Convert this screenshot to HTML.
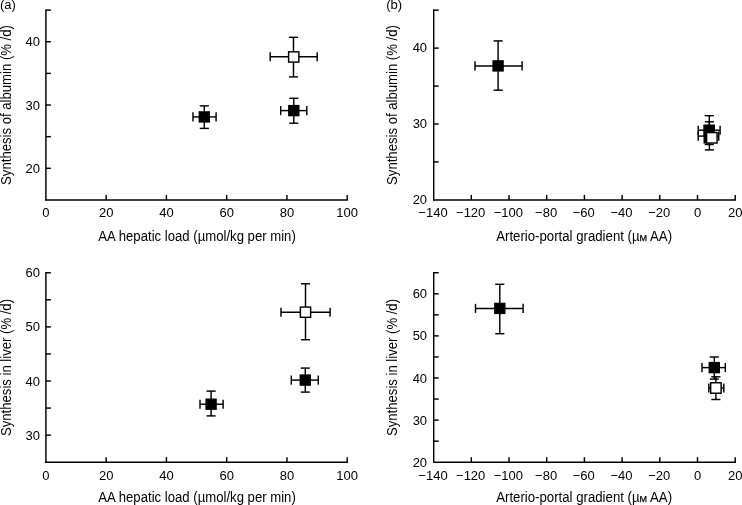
<!DOCTYPE html>
<html><head><meta charset="utf-8"><title>Figure</title>
<style>html,body{margin:0;padding:0;background:#fff}svg{display:block}
text{font-family:"Liberation Sans",Arial,Helvetica,sans-serif;fill:#000;stroke:none}</style></head>
<body><svg width="742" height="505" viewBox="0 0 742 505" stroke="#000" fill="none" stroke-linecap="butt">
<rect x="0" y="0" width="742" height="505" fill="#fff" stroke="none"/>
<line x1="45.90" y1="9.38" x2="45.90" y2="200.62" stroke-width="1.45"/>
<line x1="45.17" y1="199.90" x2="347.93" y2="199.90" stroke-width="1.45"/>
<text x="45.90" y="217.30" font-size="13" text-anchor="middle">0</text>
<line x1="106.16" y1="199.90" x2="106.16" y2="194.90" stroke-width="1.45"/>
<text x="106.16" y="217.30" font-size="13" text-anchor="middle">20</text>
<line x1="166.42" y1="199.90" x2="166.42" y2="194.90" stroke-width="1.45"/>
<text x="166.42" y="217.30" font-size="13" text-anchor="middle">40</text>
<line x1="226.68" y1="199.90" x2="226.68" y2="194.90" stroke-width="1.45"/>
<text x="226.68" y="217.30" font-size="13" text-anchor="middle">60</text>
<line x1="286.94" y1="199.90" x2="286.94" y2="194.90" stroke-width="1.45"/>
<text x="286.94" y="217.30" font-size="13" text-anchor="middle">80</text>
<line x1="347.20" y1="199.90" x2="347.20" y2="194.90" stroke-width="1.45"/>
<text x="347.20" y="217.30" font-size="13" text-anchor="middle">100</text>
<line x1="45.90" y1="168.31" x2="50.90" y2="168.31" stroke-width="1.45"/>
<text x="40.00" y="172.81" font-size="13" text-anchor="end">20</text>
<line x1="45.90" y1="105.03" x2="50.90" y2="105.03" stroke-width="1.45"/>
<text x="40.00" y="109.53" font-size="13" text-anchor="end">30</text>
<line x1="45.90" y1="41.75" x2="50.90" y2="41.75" stroke-width="1.45"/>
<text x="40.00" y="46.25" font-size="13" text-anchor="end">40</text>
<line x1="45.90" y1="136.67" x2="50.90" y2="136.67" stroke-width="1.45"/>
<line x1="45.90" y1="73.39" x2="50.90" y2="73.39" stroke-width="1.45"/>
<line x1="45.90" y1="10.11" x2="50.90" y2="10.11" stroke-width="1.45"/>
<text x="197.05" y="241.00" font-size="14" text-anchor="middle" textLength="197.5" lengthAdjust="spacingAndGlyphs">AA hepatic load (µmol/kg per min)</text>
<text x="10.80" y="105.00" font-size="14" text-anchor="middle" textLength="159.8" lengthAdjust="spacingAndGlyphs" transform="rotate(-90 10.80 105.00)">Synthesis of albumin (% /d)</text>
<line x1="270.20" y1="56.80" x2="317.20" y2="56.80" stroke-width="1.45"/>
<line x1="270.20" y1="52.25" x2="270.20" y2="61.35" stroke-width="1.45"/>
<line x1="317.20" y1="52.25" x2="317.20" y2="61.35" stroke-width="1.45"/>
<line x1="293.50" y1="37.30" x2="293.50" y2="76.90" stroke-width="1.45"/>
<line x1="288.95" y1="37.30" x2="298.05" y2="37.30" stroke-width="1.45"/>
<line x1="288.95" y1="76.90" x2="298.05" y2="76.90" stroke-width="1.45"/>
<rect x="288.62" y="51.83" width="10.25" height="10.25" fill="#fff" stroke-width="1.45"/>
<line x1="280.70" y1="110.60" x2="306.80" y2="110.60" stroke-width="1.45"/>
<line x1="280.70" y1="106.05" x2="280.70" y2="115.15" stroke-width="1.45"/>
<line x1="306.80" y1="106.05" x2="306.80" y2="115.15" stroke-width="1.45"/>
<line x1="293.80" y1="98.30" x2="293.80" y2="123.20" stroke-width="1.45"/>
<line x1="289.25" y1="98.30" x2="298.35" y2="98.30" stroke-width="1.45"/>
<line x1="289.25" y1="123.20" x2="298.35" y2="123.20" stroke-width="1.45"/>
<rect x="288.10" y="104.90" width="11.40" height="11.40" fill="#000" stroke="none"/>
<line x1="193.00" y1="116.90" x2="216.10" y2="116.90" stroke-width="1.45"/>
<line x1="193.00" y1="112.35" x2="193.00" y2="121.45" stroke-width="1.45"/>
<line x1="216.10" y1="112.35" x2="216.10" y2="121.45" stroke-width="1.45"/>
<line x1="204.30" y1="105.90" x2="204.30" y2="128.40" stroke-width="1.45"/>
<line x1="199.75" y1="105.90" x2="208.85" y2="105.90" stroke-width="1.45"/>
<line x1="199.75" y1="128.40" x2="208.85" y2="128.40" stroke-width="1.45"/>
<rect x="198.60" y="111.20" width="11.40" height="11.40" fill="#000" stroke="none"/>
<line x1="45.90" y1="272.05" x2="45.90" y2="462.93" stroke-width="1.45"/>
<line x1="45.17" y1="462.20" x2="347.93" y2="462.20" stroke-width="1.45"/>
<text x="45.90" y="479.50" font-size="13" text-anchor="middle">0</text>
<line x1="106.16" y1="462.20" x2="106.16" y2="457.20" stroke-width="1.45"/>
<text x="106.16" y="479.50" font-size="13" text-anchor="middle">20</text>
<line x1="166.42" y1="462.20" x2="166.42" y2="457.20" stroke-width="1.45"/>
<text x="166.42" y="479.50" font-size="13" text-anchor="middle">40</text>
<line x1="226.68" y1="462.20" x2="226.68" y2="457.20" stroke-width="1.45"/>
<text x="226.68" y="479.50" font-size="13" text-anchor="middle">60</text>
<line x1="286.94" y1="462.20" x2="286.94" y2="457.20" stroke-width="1.45"/>
<text x="286.94" y="479.50" font-size="13" text-anchor="middle">80</text>
<line x1="347.20" y1="462.20" x2="347.20" y2="457.20" stroke-width="1.45"/>
<text x="347.20" y="479.50" font-size="13" text-anchor="middle">100</text>
<line x1="45.90" y1="435.14" x2="50.90" y2="435.14" stroke-width="1.45"/>
<text x="40.00" y="439.64" font-size="13" text-anchor="end">30</text>
<line x1="45.90" y1="381.02" x2="50.90" y2="381.02" stroke-width="1.45"/>
<text x="40.00" y="385.52" font-size="13" text-anchor="end">40</text>
<line x1="45.90" y1="326.90" x2="50.90" y2="326.90" stroke-width="1.45"/>
<text x="40.00" y="331.40" font-size="13" text-anchor="end">50</text>
<line x1="45.90" y1="272.78" x2="50.90" y2="272.78" stroke-width="1.45"/>
<text x="40.00" y="277.28" font-size="13" text-anchor="end">60</text>
<line x1="45.90" y1="408.08" x2="50.90" y2="408.08" stroke-width="1.45"/>
<line x1="45.90" y1="353.96" x2="50.90" y2="353.96" stroke-width="1.45"/>
<line x1="45.90" y1="299.84" x2="50.90" y2="299.84" stroke-width="1.45"/>
<text x="197.05" y="502.00" font-size="14" text-anchor="middle" textLength="197.5" lengthAdjust="spacingAndGlyphs">AA hepatic load (µmol/kg per min)</text>
<text x="10.80" y="367.49" font-size="14" text-anchor="middle" textLength="137" lengthAdjust="spacingAndGlyphs" transform="rotate(-90 10.80 367.49)">Synthesis in liver (% /d)</text>
<line x1="281.00" y1="312.20" x2="330.10" y2="312.20" stroke-width="1.45"/>
<line x1="281.00" y1="307.65" x2="281.00" y2="316.75" stroke-width="1.45"/>
<line x1="330.10" y1="307.65" x2="330.10" y2="316.75" stroke-width="1.45"/>
<line x1="305.50" y1="283.80" x2="305.50" y2="339.70" stroke-width="1.45"/>
<line x1="300.95" y1="283.80" x2="310.05" y2="283.80" stroke-width="1.45"/>
<line x1="300.95" y1="339.70" x2="310.05" y2="339.70" stroke-width="1.45"/>
<rect x="300.38" y="307.07" width="10.25" height="10.25" fill="#fff" stroke-width="1.45"/>
<line x1="291.30" y1="380.10" x2="318.30" y2="380.10" stroke-width="1.45"/>
<line x1="291.30" y1="375.55" x2="291.30" y2="384.65" stroke-width="1.45"/>
<line x1="318.30" y1="375.55" x2="318.30" y2="384.65" stroke-width="1.45"/>
<line x1="305.30" y1="368.10" x2="305.30" y2="392.10" stroke-width="1.45"/>
<line x1="300.75" y1="368.10" x2="309.85" y2="368.10" stroke-width="1.45"/>
<line x1="300.75" y1="392.10" x2="309.85" y2="392.10" stroke-width="1.45"/>
<rect x="299.60" y="374.40" width="11.40" height="11.40" fill="#000" stroke="none"/>
<line x1="200.00" y1="404.20" x2="223.10" y2="404.20" stroke-width="1.45"/>
<line x1="200.00" y1="399.65" x2="200.00" y2="408.75" stroke-width="1.45"/>
<line x1="223.10" y1="399.65" x2="223.10" y2="408.75" stroke-width="1.45"/>
<line x1="211.10" y1="391.10" x2="211.10" y2="415.90" stroke-width="1.45"/>
<line x1="206.55" y1="391.10" x2="215.65" y2="391.10" stroke-width="1.45"/>
<line x1="206.55" y1="415.90" x2="215.65" y2="415.90" stroke-width="1.45"/>
<rect x="205.40" y="398.50" width="11.40" height="11.40" fill="#000" stroke="none"/>
<line x1="433.70" y1="9.43" x2="433.70" y2="200.62" stroke-width="1.45"/>
<line x1="432.97" y1="199.90" x2="735.93" y2="199.90" stroke-width="1.45"/>
<text x="433.00" y="217.30" font-size="13" text-anchor="middle">−140</text>
<line x1="471.30" y1="199.90" x2="471.30" y2="194.90" stroke-width="1.45"/>
<text x="470.70" y="217.30" font-size="13" text-anchor="middle">−120</text>
<line x1="509.00" y1="199.90" x2="509.00" y2="194.90" stroke-width="1.45"/>
<text x="508.40" y="217.30" font-size="13" text-anchor="middle">−100</text>
<line x1="546.70" y1="199.90" x2="546.70" y2="194.90" stroke-width="1.45"/>
<text x="546.10" y="217.30" font-size="13" text-anchor="middle">−80</text>
<line x1="584.40" y1="199.90" x2="584.40" y2="194.90" stroke-width="1.45"/>
<text x="583.80" y="217.30" font-size="13" text-anchor="middle">−60</text>
<line x1="622.10" y1="199.90" x2="622.10" y2="194.90" stroke-width="1.45"/>
<text x="621.50" y="217.30" font-size="13" text-anchor="middle">−40</text>
<line x1="659.80" y1="199.90" x2="659.80" y2="194.90" stroke-width="1.45"/>
<text x="659.20" y="217.30" font-size="13" text-anchor="middle">−20</text>
<line x1="697.50" y1="199.90" x2="697.50" y2="194.90" stroke-width="1.45"/>
<text x="697.50" y="217.30" font-size="13" text-anchor="middle">0</text>
<line x1="735.20" y1="199.90" x2="735.20" y2="194.90" stroke-width="1.45"/>
<text x="735.20" y="217.30" font-size="13" text-anchor="middle">20</text>
<text x="427.10" y="204.40" font-size="13" text-anchor="end">20</text>
<line x1="433.70" y1="124.00" x2="438.70" y2="124.00" stroke-width="1.45"/>
<text x="427.10" y="127.60" font-size="13" text-anchor="end">30</text>
<line x1="433.70" y1="48.10" x2="438.70" y2="48.10" stroke-width="1.45"/>
<text x="427.10" y="51.70" font-size="13" text-anchor="end">40</text>
<line x1="433.70" y1="161.95" x2="438.70" y2="161.95" stroke-width="1.45"/>
<line x1="433.70" y1="86.05" x2="438.70" y2="86.05" stroke-width="1.45"/>
<line x1="433.70" y1="10.15" x2="438.70" y2="10.15" stroke-width="1.45"/>
<text x="584.15" y="241.00" font-size="14" text-anchor="middle" textLength="175.8" lengthAdjust="spacingAndGlyphs">Arterio-portal gradient (µ<tspan font-size="9.6" stroke="#000" stroke-width="0.25">M</tspan> AA)</text>
<text x="397.20" y="105.03" font-size="14" text-anchor="middle" textLength="159.8" lengthAdjust="spacingAndGlyphs" transform="rotate(-90 397.20 105.03)">Synthesis of albumin (% /d)</text>
<line x1="475.00" y1="65.90" x2="522.10" y2="65.90" stroke-width="1.45"/>
<line x1="475.00" y1="61.35" x2="475.00" y2="70.45" stroke-width="1.45"/>
<line x1="522.10" y1="61.35" x2="522.10" y2="70.45" stroke-width="1.45"/>
<line x1="498.10" y1="40.90" x2="498.10" y2="90.20" stroke-width="1.45"/>
<line x1="493.55" y1="40.90" x2="502.65" y2="40.90" stroke-width="1.45"/>
<line x1="493.55" y1="90.20" x2="502.65" y2="90.20" stroke-width="1.45"/>
<rect x="492.40" y="60.20" width="11.40" height="11.40" fill="#000" stroke="none"/>
<line x1="698.20" y1="130.20" x2="720.10" y2="130.20" stroke-width="1.45"/>
<line x1="698.20" y1="125.65" x2="698.20" y2="134.75" stroke-width="1.45"/>
<line x1="720.10" y1="125.65" x2="720.10" y2="134.75" stroke-width="1.45"/>
<line x1="709.30" y1="115.70" x2="709.30" y2="144.50" stroke-width="1.45"/>
<line x1="704.75" y1="115.70" x2="713.85" y2="115.70" stroke-width="1.45"/>
<line x1="704.75" y1="144.50" x2="713.85" y2="144.50" stroke-width="1.45"/>
<rect x="703.60" y="124.50" width="11.40" height="11.40" fill="#000" stroke="none"/>
<line x1="698.20" y1="136.10" x2="718.75" y2="136.10" stroke-width="1.45"/>
<line x1="698.20" y1="131.55" x2="698.20" y2="140.65" stroke-width="1.45"/>
<line x1="718.75" y1="131.55" x2="718.75" y2="140.65" stroke-width="1.45"/>
<line x1="709.40" y1="121.80" x2="709.40" y2="149.90" stroke-width="1.45"/>
<line x1="704.85" y1="121.80" x2="713.95" y2="121.80" stroke-width="1.45"/>
<line x1="704.85" y1="149.90" x2="713.95" y2="149.90" stroke-width="1.45"/>
<rect x="706.62" y="132.58" width="10.45" height="10.45" fill="#fff" stroke-width="1.45"/>
<rect x="703.5" y="125" width="3.5" height="18.6" fill="#000" stroke="none"/>
<line x1="433.70" y1="272.02" x2="433.70" y2="462.93" stroke-width="1.45"/>
<line x1="432.97" y1="462.20" x2="735.93" y2="462.20" stroke-width="1.45"/>
<text x="433.00" y="479.50" font-size="13" text-anchor="middle">−140</text>
<line x1="471.30" y1="462.20" x2="471.30" y2="457.20" stroke-width="1.45"/>
<text x="470.70" y="479.50" font-size="13" text-anchor="middle">−120</text>
<line x1="509.00" y1="462.20" x2="509.00" y2="457.20" stroke-width="1.45"/>
<text x="508.40" y="479.50" font-size="13" text-anchor="middle">−100</text>
<line x1="546.70" y1="462.20" x2="546.70" y2="457.20" stroke-width="1.45"/>
<text x="546.10" y="479.50" font-size="13" text-anchor="middle">−80</text>
<line x1="584.40" y1="462.20" x2="584.40" y2="457.20" stroke-width="1.45"/>
<text x="583.80" y="479.50" font-size="13" text-anchor="middle">−60</text>
<line x1="622.10" y1="462.20" x2="622.10" y2="457.20" stroke-width="1.45"/>
<text x="621.50" y="479.50" font-size="13" text-anchor="middle">−40</text>
<line x1="659.80" y1="462.20" x2="659.80" y2="457.20" stroke-width="1.45"/>
<text x="659.20" y="479.50" font-size="13" text-anchor="middle">−20</text>
<line x1="697.50" y1="462.20" x2="697.50" y2="457.20" stroke-width="1.45"/>
<text x="697.50" y="479.50" font-size="13" text-anchor="middle">0</text>
<line x1="735.20" y1="462.20" x2="735.20" y2="457.20" stroke-width="1.45"/>
<text x="735.20" y="479.50" font-size="13" text-anchor="middle">20</text>
<text x="427.10" y="466.70" font-size="13" text-anchor="end">20</text>
<line x1="433.70" y1="420.10" x2="438.70" y2="420.10" stroke-width="1.45"/>
<text x="427.10" y="424.60" font-size="13" text-anchor="end">30</text>
<line x1="433.70" y1="378.00" x2="438.70" y2="378.00" stroke-width="1.45"/>
<text x="427.10" y="382.50" font-size="13" text-anchor="end">40</text>
<line x1="433.70" y1="335.90" x2="438.70" y2="335.90" stroke-width="1.45"/>
<text x="427.10" y="340.40" font-size="13" text-anchor="end">50</text>
<line x1="433.70" y1="293.80" x2="438.70" y2="293.80" stroke-width="1.45"/>
<text x="427.10" y="298.30" font-size="13" text-anchor="end">60</text>
<line x1="433.70" y1="441.15" x2="438.70" y2="441.15" stroke-width="1.45"/>
<line x1="433.70" y1="399.05" x2="438.70" y2="399.05" stroke-width="1.45"/>
<line x1="433.70" y1="356.95" x2="438.70" y2="356.95" stroke-width="1.45"/>
<line x1="433.70" y1="314.85" x2="438.70" y2="314.85" stroke-width="1.45"/>
<line x1="433.70" y1="272.75" x2="438.70" y2="272.75" stroke-width="1.45"/>
<text x="584.15" y="502.00" font-size="14" text-anchor="middle" textLength="175.8" lengthAdjust="spacingAndGlyphs">Arterio-portal gradient (µ<tspan font-size="9.6" stroke="#000" stroke-width="0.25">M</tspan> AA)</text>
<text x="397.20" y="367.48" font-size="14" text-anchor="middle" textLength="137" lengthAdjust="spacingAndGlyphs" transform="rotate(-90 397.20 367.48)">Synthesis in liver (% /d)</text>
<line x1="475.50" y1="308.40" x2="523.10" y2="308.40" stroke-width="1.45"/>
<line x1="475.50" y1="303.85" x2="475.50" y2="312.95" stroke-width="1.45"/>
<line x1="523.10" y1="303.85" x2="523.10" y2="312.95" stroke-width="1.45"/>
<line x1="499.80" y1="284.30" x2="499.80" y2="333.70" stroke-width="1.45"/>
<line x1="495.25" y1="284.30" x2="504.35" y2="284.30" stroke-width="1.45"/>
<line x1="495.25" y1="333.70" x2="504.35" y2="333.70" stroke-width="1.45"/>
<rect x="494.10" y="302.70" width="11.40" height="11.40" fill="#000" stroke="none"/>
<line x1="702.00" y1="367.60" x2="725.30" y2="367.60" stroke-width="1.45"/>
<line x1="702.00" y1="363.05" x2="702.00" y2="372.15" stroke-width="1.45"/>
<line x1="725.30" y1="363.05" x2="725.30" y2="372.15" stroke-width="1.45"/>
<line x1="714.30" y1="357.00" x2="714.30" y2="379.10" stroke-width="1.45"/>
<line x1="709.75" y1="357.00" x2="718.85" y2="357.00" stroke-width="1.45"/>
<line x1="709.75" y1="379.10" x2="718.85" y2="379.10" stroke-width="1.45"/>
<rect x="708.60" y="361.90" width="11.40" height="11.40" fill="#000" stroke="none"/>
<line x1="708.80" y1="388.00" x2="723.80" y2="388.00" stroke-width="1.45"/>
<line x1="708.80" y1="383.45" x2="708.80" y2="392.55" stroke-width="1.45"/>
<line x1="723.80" y1="383.45" x2="723.80" y2="392.55" stroke-width="1.45"/>
<line x1="715.90" y1="376.80" x2="715.90" y2="399.50" stroke-width="1.45"/>
<line x1="711.35" y1="376.80" x2="720.45" y2="376.80" stroke-width="1.45"/>
<line x1="711.35" y1="399.50" x2="720.45" y2="399.50" stroke-width="1.45"/>
<rect x="710.67" y="382.77" width="10.45" height="10.45" fill="#fff" stroke-width="1.45"/>
<text x="-0.10" y="9.10" font-size="12.3" textLength="15.9" lengthAdjust="spacingAndGlyphs">(a)</text>
<text x="386.20" y="9.10" font-size="12.3" textLength="15.9" lengthAdjust="spacingAndGlyphs">(b)</text>
</svg></body></html>
